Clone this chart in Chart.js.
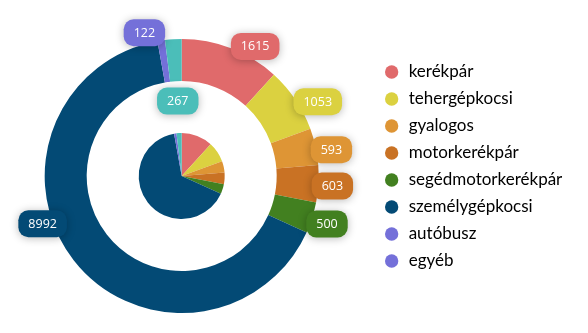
<!DOCTYPE html>
<html>
<head>
<meta charset="utf-8">
<script src="https://cdn.jsdelivr.net/npm/chart.js@4/dist/chart.umd.min.js"></script>
<style>
  html, body { margin: 0; padding: 0; background: #ffffff; }
  #wrap { width: 588px; height: 333px; position: relative; }
</style>
</head>
<body>
<div id="wrap"><canvas id="c" width="588" height="333"></canvas></div>
<script>
// Accidents by vehicle type
const categories = ['kerékpár', 'tehergépkocsi', 'gyalogos', 'motorkerékpár', 'segédmotorkerékpár', 'személygépkocsi', 'autóbusz', 'egyéb'];
const values = [1615, 1053, 593, 603, 500, 8992, 122, 267];
const sliceColors = ['#E06A6B', '#DBD140', '#DE9535', '#C97224', '#428020', '#034A75', '#7470D9', '#4BBEB9'];
const legendColors = ['#E06A6B', '#DBD140', '#DE9535', '#C97224', '#428020', '#034A75', '#7470D9', '#7470D9'];

// Value badge placement: angular nudge (deg) and radial distance from the ring's outer edge
const badgeNudge = [8.4, 5.3, 2.4, 0.5, 0.5, 19, -6, 0.5];
const badgeRadial = [12, 18, 15, 14, 16, 10, 11, -62];

const badgePlugin = {
  id: 'valueBadges',
  afterDatasetsDraw(chart) {
    const meta = chart.getDatasetMeta(0);
    const ctx = chart.ctx;
    ctx.save();
    ctx.font = '12.5px "Open Sans", sans-serif';
    ctx.textAlign = 'center';
    ctx.textBaseline = 'middle';
    meta.data.forEach((arc, i) => {
      const p = arc.getProps(['x', 'y', 'startAngle', 'endAngle', 'outerRadius']);
      const a = (p.startAngle + p.endAngle) / 2 + badgeNudge[i] * Math.PI / 180;
      const r = p.outerRadius + badgeRadial[i];
      const cx = p.x + r * Math.cos(a);
      const cy = p.y + r * Math.sin(a);
      const txt = String(values[i]);
      const w = ctx.measureText(txt).width + 20;
      const h = 27;
      ctx.save();
      ctx.shadowColor = 'rgba(0,0,0,0.28)';
      ctx.shadowBlur = 8;
      ctx.shadowOffsetY = 1;
      ctx.fillStyle = sliceColors[i];
      ctx.beginPath();
      ctx.roundRect(cx - w / 2, cy - h / 2, w, h, 10);
      ctx.fill();
      ctx.restore();
      ctx.fillStyle = '#ffffff';
      ctx.fillText(txt, cx, cy + 0.5);
    });
    ctx.restore();
  }
};

// Nudge the legend column beside the rings
const legendShift = { dx: 9.8, dy: -9.5 };
const legendPlace = {
  id: 'legendPlace',
  afterLayout(chart) {
    const lg = chart.legend;
    lg.left += legendShift.dx; lg.right += legendShift.dx;
    lg.top += legendShift.dy; lg.bottom += legendShift.dy;
  }
};

new Chart(document.getElementById('c'), {
  type: 'doughnut',
  data: {
    labels: categories,
    datasets: [
      { data: values, backgroundColor: sliceColors, weight: 42 },
      { data: [1], backgroundColor: 'rgba(0,0,0,0)', weight: 52 },
      { data: values, backgroundColor: sliceColors, weight: 43 }
    ]
  },
  options: {
    responsive: false,
    animation: false,
    cutout: 0,
    borderWidth: 0,
    hoverOffset: 0,
    layout: { padding: { left: 0, right: 25.5, top: 39, bottom: 20 } },
    plugins: {
      tooltip: { enabled: false },
      legend: {
        position: 'right',
        align: 'center',
        labels: {
          usePointStyle: true,
          pointStyle: 'circle',
          boxWidth: 17,
          boxHeight: 9.4,
          padding: 10,
          color: '#333333',
          font: { size: 17, family: 'Lato, sans-serif' },
          generateLabels() {
            return categories.map((c, i) => ({
              text: c, fillStyle: legendColors[i], strokeStyle: legendColors[i],
              lineWidth: 0, pointStyle: 'circle', hidden: false, index: i
            }));
          }
        }
      }
    }
  },
  plugins: [badgePlugin, legendPlace]
});
</script>
</body>
</html>
